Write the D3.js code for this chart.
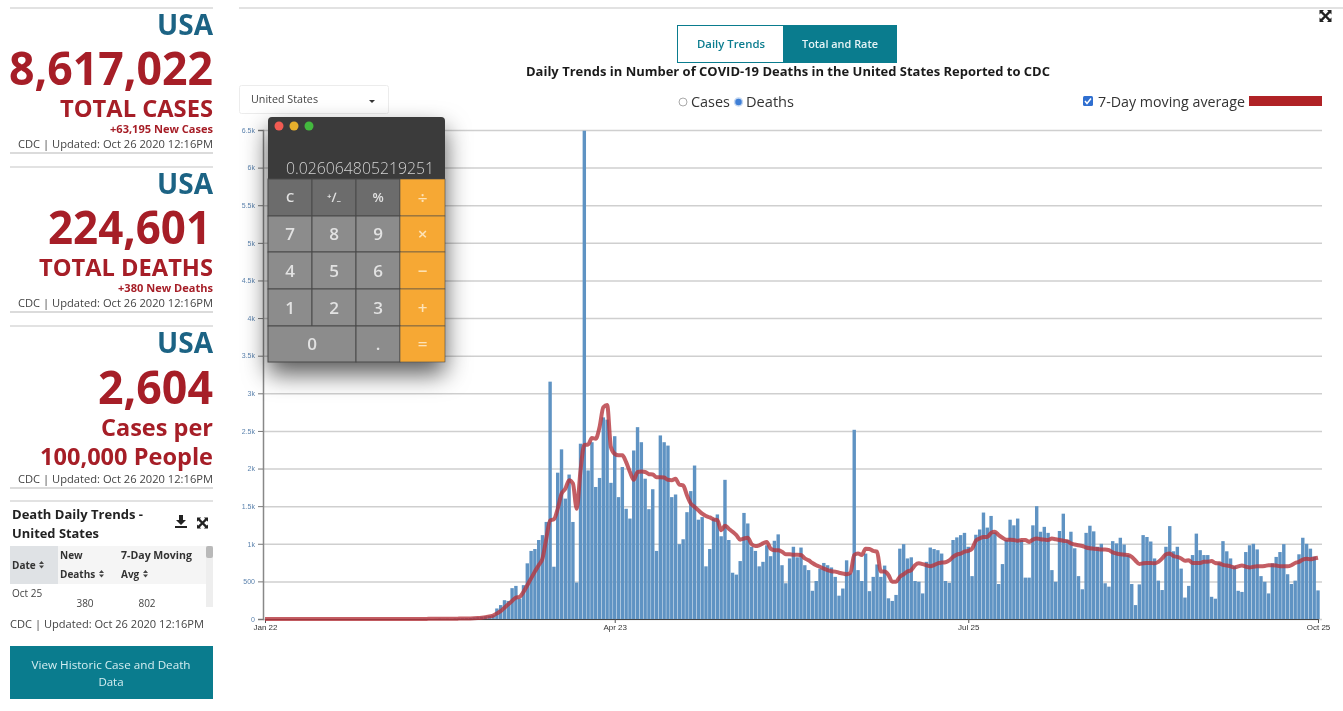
<!DOCTYPE html>
<html>
<head>
<meta charset="utf-8">
<title>COVID-19 Daily Trends</title>
<script src="https://cdn.jsdelivr.net/npm/d3@7"></script>
<style>
  html, body { margin: 0; padding: 0; background: #fff; overflow: hidden; }
  svg { display: block; font-family: "Open Sans", "Noto Sans", sans-serif; filter: blur(0.45px); }
</style>
</head>
<body>
<svg id="page" width="1343" height="711"></svg>
<script>
/**
 * Data
 */
const dailyDeaths = [
  0,0,0,0,0,0,0,0,0,0, 0,0,0,0,0,0,0,0,0,0, 0,0,0,0,0,0,0,0,0,0, 0,0,0,0,0,0,0,0,1,
  1,1,2,3,4,1,3,6,4,5,4,8,10,10,12,14,20,24,30,36,42,
  50,140,185,250,240,410,440,270,450,740,
  905,930,1050,1115,1290,3155,695,1945,2255,1600,
  1920,1290,485,2330,6490,1975,2350,1755,1875,2680,
  2650,1810,2430,1620,2020,1465,1335,2240,2550,2350,
  1865,1460,1725,905,2440,2350,2305,1620,1655,995,
  1060,1420,1700,2040,1320,1355,700,930,1335,1390,
  1100,1850,1050,615,590,770,1410,1270,960,905,
  700,760,980,835,1040,1125,715,475,805,960,
  820,950,715,650,375,505,670,745,715,685,
  560,310,405,780,605,2515,650,505,870,370,
  560,725,560,710,275,240,320,935,995,805,
  820,505,495,340,760,950,930,915,870,505,
  480,1050,1085,1115,1145,960,570,1120,1190,1415,
  1215,1370,1150,465,730,1050,1320,1245,1335,1050,
  550,550,1245,1500,1160,1225,1145,650,495,1170,
  1400,1050,1160,940,570,395,1145,1240,1165,960,
  1000,475,430,1035,1005,1080,990,850,465,185,
  460,1115,1090,1030,805,510,385,960,1235,900,
  960,670,285,440,850,1135,915,850,850,295,
  270,750,1035,900,805,700,375,360,890,980,
  1000,925,570,495,340,740,825,890,995,595,
  465,510,860,1080,1000,935,830,380
];
const movingAvg = [
  0,0,0,0,0,0,0,0,0,0, 0,0,0,0,0,0,0,0,0,0, 0,0,0,0,0,0,0,0,0,0, 0,0,0,0,0,0,0,0,0,
  1,1,1,1,2,2,2,3,3,3,4,4,5,6,7,8,10,13,18,25,35,
  45,75,105,150,195,240,285,295,360,450,
  540,630,715,805,1070,1310,1325,1465,1665,1730,
  1845,1800,1465,1975,2315,2320,2405,2395,2550,2815,
  2845,2285,2195,2175,2175,2085,1955,1850,1955,1960,
  1955,1925,1920,1885,1885,1880,1850,1845,1865,1785,
  1775,1645,1535,1490,1445,1400,1370,1350,1325,1315,
  1180,1240,1200,1160,1115,1055,1070,1080,995,970,
  980,1005,1025,935,915,915,895,860,860,855,
  855,850,805,780,745,715,695,670,650,635,
  630,615,605,595,615,850,870,850,935,930,
  905,895,630,630,585,495,495,560,595,630,
  650,715,740,730,715,700,715,740,750,755,
  780,825,855,870,895,905,935,1040,1070,1090,
  1090,1145,1160,1115,1080,1055,1055,1050,1040,1050,
  1050,1025,1055,1070,1060,1055,1050,1070,1060,1050,
  1040,1035,1005,990,980,970,950,940,935,930,
  925,925,915,885,870,860,855,850,825,775,
  730,740,745,745,740,760,805,860,870,835,
  825,805,775,780,745,745,745,760,760,770,
  745,740,720,710,700,685,700,710,695,685,
  695,700,700,705,715,715,710,700,700,700,
  715,745,760,790,800,795,805,815
];
const yTicks = [0, 500, 1000, 1500, 2000, 2500, 3000, 3500, 4000, 4500, 5000, 5500, 6000, 6500];
const xTickDays = [0, 92, 185, 277];
const calcKeys = [
  ["C", "⁺∕₋", "%", "÷"],
  ["7", "8", "9", "×"],
  ["4", "5", "6", "−"],
  ["1", "2", "3", "+"],
  ["0", "", ".", "="]
];
const statBlocks = [
  { top: 0, big: "8,617,022", bigEnd: 213, bigW: 204, name: "TOTAL CASES", nameW: 153, sub: "+63,195 New Cases", subW: 103 },
  { top: 159, big: "224,601", bigEnd: 211, bigW: 163, name: "TOTAL DEATHS", nameW: 174, sub: "+380 New Deaths", subW: 95 }
];

const teal = "#0a7c8e", navy = "#1c6384", red = "#a61e27", grey = "#444";
const svg = d3.select("#page");

/**
 * Helpers
 */
function label(parent, x, y, str, size, fill, opts = {}) {
  const t = parent.append("text")
    .attr("x", x).attr("y", y).text(str)
    .attr("font-size", size).attr("fill", fill)
    .attr("font-weight", opts.weight || 400)
    .attr("text-anchor", opts.anchor || "start");
  if (opts.width) t.attr("textLength", opts.width).attr("lengthAdjust", "spacingAndGlyphs");
  return t;
}
function hr(y, x1, x2, color = "#d9d9d9") {
  svg.append("line").attr("x1", x1).attr("x2", x2).attr("y1", y).attr("y2", y)
    .attr("stroke", color).attr("stroke-width", 1.5);
}
function expandIcon(cx, cy, r) {
  const g = svg.append("g").attr("transform", `translate(${cx},${cy})`)
    .attr("stroke", "#222").attr("fill", "#222");
  [[1, 1], [1, -1], [-1, 1], [-1, -1]].forEach(([a, b]) => {
    g.append("line").attr("x1", 0).attr("y1", 0)
      .attr("x2", a * r * 0.8).attr("y2", b * r * 0.8).attr("stroke-width", 2.4);
    g.append("path").attr("stroke", "none")
      .attr("d", `M${a * r},${b * r}L${a * r * 0.25},${b * r}L${a * r},${b * r * 0.25}Z`);
  });
}
function sortIcon(x, y) {
  svg.append("path").attr("fill", "#444")
    .attr("d", `M${x},${y - 1}l2.5,-3l2.5,3ZM${x},${y + 0.5}l2.5,3l2.5,-3Z`);
}

/**
 * Left column
 */
hr(8, 10, 213);
statBlocks.forEach(b => {
  label(svg, 213, b.top + 35, "USA", 28, navy, { weight: 700, anchor: "end" });
  label(svg, b.bigEnd, b.top + 85, b.big, 47, red, { weight: 700, anchor: "end", width: b.bigW });
  label(svg, 213, b.top + 117, b.name, 23, red, { weight: 700, anchor: "end", width: b.nameW });
  label(svg, 213, b.top + 133, b.sub, 10.5, red, { weight: 700, anchor: "end", width: b.subW });
  label(svg, 213, b.top + 148, "CDC | Updated: Oct 26 2020 12:16PM", 11, grey, { anchor: "end", width: 195 });
  hr(b.top + 153, 10, 213, "#cfcfcf");
  hr(b.top + 167, 10, 213);
});
label(svg, 213, 353, "USA", 28, navy, { weight: 700, anchor: "end" });
label(svg, 213, 404, "2,604", 47, red, { weight: 700, anchor: "end", width: 115 });
label(svg, 213, 436, "Cases per", 23, red, { weight: 700, anchor: "end", width: 112 });
label(svg, 213, 465, "100,000 People", 23, red, { weight: 700, anchor: "end", width: 173 });
label(svg, 213, 483, "CDC | Updated: Oct 26 2020 12:16PM", 11, grey, { anchor: "end", width: 195 });
hr(488, 10, 213, "#cfcfcf");
hr(501, 10, 213);

label(svg, 12, 519, "Death Daily Trends -", 13, "#222", { weight: 700, width: 131 });
label(svg, 12, 538, "United States", 13, "#222", { weight: 700, width: 87 });
svg.append("path").attr("fill", "#222")
  .attr("d", "M179,515h4v5h3l-5,5l-5,-5h3ZM175,526h12v2h-12Z");
expandIcon(202.5, 523, 5.5);

svg.append("rect").attr("x", 10).attr("y", 546).attr("width", 197).attr("height", 38).attr("fill", "#f5f5f5");
svg.append("rect").attr("x", 10).attr("y", 546).attr("width", 48).attr("height", 38).attr("fill", "#dfe2e5");
label(svg, 12, 569, "Date", 10, "#333", { weight: 700 });
sortIcon(39, 565);
label(svg, 60, 559, "New", 10, "#333", { weight: 700 });
label(svg, 60, 578, "Deaths", 10, "#333", { weight: 700 });
sortIcon(99, 574);
label(svg, 121, 559, "7-Day Moving", 10, "#333", { weight: 700, width: 71 });
label(svg, 121, 578, "Avg", 10, "#333", { weight: 700 });
sortIcon(143, 574);
label(svg, 12, 597, "Oct 25", 10, "#444");
label(svg, 85, 607, "380", 10, "#444", { anchor: "middle" });
label(svg, 147, 607, "802", 10, "#444", { anchor: "middle" });
svg.append("rect").attr("x", 206).attr("y", 546).attr("width", 7).attr("height", 61).attr("fill", "#eee");
svg.append("rect").attr("x", 206).attr("y", 546).attr("width", 7).attr("height", 12).attr("rx", 2).attr("fill", "#b9b9b9");
label(svg, 10, 628, "CDC | Updated: Oct 26 2020 12:16PM", 11, grey, { width: 194 });
svg.append("rect").attr("x", 10).attr("y", 646).attr("width", 203).attr("height", 53).attr("fill", teal);
label(svg, 111, 669, "View Historic Case and Death", 11.5, "#d5eef1", { anchor: "middle", width: 159 });
label(svg, 111, 686, "Data", 11.5, "#d5eef1", { anchor: "middle" });

/**
 * Header of the chart panel
 */
hr(8, 239, 1343);
expandIcon(1325.5, 16, 6);
svg.append("rect").attr("x", 677.5).attr("y", 25.5).attr("width", 106).attr("height", 37)
  .attr("fill", "#fff").attr("stroke", teal);
svg.append("rect").attr("x", 783).attr("y", 25).attr("width", 114).attr("height", 38).attr("fill", teal);
label(svg, 731, 48, "Daily Trends", 11.5, teal, { weight: 600, anchor: "middle", width: 68 });
label(svg, 840, 48, "Total and Rate", 11.5, "#e6f4f6", { weight: 600, anchor: "middle", width: 76 });
label(svg, 788, 76, "Daily Trends in Number of COVID-19 Deaths in the United States Reported to CDC", 12.5, "#1a1a1a",
  { weight: 700, anchor: "middle", width: 524 });

svg.append("rect").attr("x", 239.5).attr("y", 85.5).attr("width", 149).attr("height", 28).attr("rx", 2)
  .attr("fill", "#fff").attr("stroke", "#ececec");
label(svg, 251, 103, "United States", 10.5, grey, { width: 67 });
svg.append("path").attr("d", "M369,100h6l-3,3Z").attr("fill", "#333");

svg.append("circle").attr("cx", 683).attr("cy", 102).attr("r", 4).attr("fill", "#fff").attr("stroke", "#aaa");
label(svg, 691, 107, "Cases", 14, "#333", { width: 39 });
svg.append("circle").attr("cx", 738.5).attr("cy", 102).attr("r", 4).attr("fill", "#3f7fd6").attr("stroke", "#c5d8f2").attr("stroke-width", 1.5);
label(svg, 746, 107, "Deaths", 14, "#333", { width: 48 });
svg.append("rect").attr("x", 1083).attr("y", 96).attr("width", 10).attr("height", 10).attr("rx", 1.5).attr("fill", "#2f6fd0");
svg.append("path").attr("d", "M1085,101l2,2.5l4,-5").attr("fill", "none").attr("stroke", "#fff").attr("stroke-width", 1.5);
label(svg, 1098, 107, "7-Day moving average", 14, "#333", { width: 147 });
svg.append("rect").attr("x", 1249).attr("y", 96).attr("width", 73).attr("height", 10).attr("fill", "#b02226");

/**
 * Chart
 */
const startDate = new Date(2020, 0, 22);
const dayOf = i => d3.timeDay.offset(startDate, i);
const xScale = d3.scaleTime().domain([dayOf(0), dayOf(277)]).range([265, 1318]);
const yScale = d3.scaleLinear().domain([0, 6500]).range([619, 130]);

const grid = svg.append("g").attr("transform", "translate(263,0)")
  .call(d3.axisLeft(yScale).tickValues(yTicks).tickSize(-1059).tickFormat(""));
grid.select(".domain").remove();
grid.selectAll("line").attr("stroke", "#cfcfcf").attr("stroke-width", 1.5);

svg.append("g").selectAll("rect")
  .data(dailyDeaths)
  .enter()
  .append("rect")
  .attr("x", (d, i) => xScale(dayOf(i)) - 1.7)
  .attr("width", 3.4)
  .attr("y", d => yScale(d))
  .attr("height", d => yScale(0) - yScale(d))
  .attr("fill", "#5f93c3");

const yAxis = svg.append("g").attr("transform", "translate(263,0)")
  .call(d3.axisLeft(yScale).tickValues(yTicks).tickSize(5)
    .tickFormat(d => d >= 1000 ? (d / 1000) + "k" : d));
yAxis.select(".domain").attr("stroke", "#888").attr("stroke-width", 1.5);
yAxis.selectAll(".tick line").attr("stroke", "#777");
yAxis.selectAll("text").attr("font-size", 7).attr("fill", "#5b82ad").attr("font-family", "inherit");

const xAxis = svg.append("g").attr("transform", "translate(0,619)")
  .call(d3.axisBottom(xScale).tickValues(xTickDays.map(dayOf)).tickSize(4)
    .tickFormat(d3.timeFormat("%b %d")));
xAxis.select(".domain").attr("stroke", "#444");
xAxis.selectAll(".tick line").attr("stroke", "#555");
xAxis.selectAll("text").attr("font-size", 8).attr("fill", "#333").attr("font-family", "inherit").attr("dy", "0.5em");

const avgLine = d3.line()
  .x((d, i) => xScale(dayOf(i)))
  .y(d => yScale(d))
  .curve(d3.curveMonotoneX);
svg.append("path").attr("d", avgLine(movingAvg))
  .attr("fill", "none").attr("stroke", "#b5363d").attr("stroke-opacity", 0.8)
  .attr("stroke-width", 4).attr("stroke-linejoin", "round");

/**
 * Calculator window on top of the chart
 */
const defs = svg.append("defs");
defs.append("filter").attr("id", "calcShadow")
  .attr("x", "-30%").attr("y", "-20%").attr("width", "160%").attr("height", "150%")
  .append("feDropShadow").attr("dx", 0).attr("dy", 12).attr("stdDeviation", 12)
  .attr("flood-color", "#000").attr("flood-opacity", 0.65);

const calcX = d3.scaleOrdinal().domain([0, 1, 2, 3, 4]).range([268, 312, 356, 400, 445]);
const calcY = d3.scaleOrdinal().domain([0, 1, 2, 3, 4, 5]).range([179, 216, 252, 289, 326, 362]);
const calc = svg.append("g");
calc.append("rect").attr("x", 268).attr("y", 117).attr("width", 177).attr("height", 245).attr("rx", 4)
  .attr("fill", "#3a3a3a").attr("filter", "url(#calcShadow)");
[["#f25b52", 279], ["#e7b02c", 294], ["#43b83e", 309]].forEach(([c, x]) => {
  calc.append("circle").attr("cx", x).attr("cy", 126).attr("r", 4.5).attr("fill", c);
});
label(calc, 434, 174, "0.026064805219251", 16.5, "#d2d2d2", { anchor: "end", width: 148 }).attr("font-weight", 300);

calcKeys.forEach((row, r) => {
  row.forEach((key, c) => {
    if (r === 4 && c === 1) return;
    const wide = r === 4 && c === 0;
    const x0 = calcX(c), x1 = calcX(wide ? c + 2 : c + 1);
    const y0 = calcY(r), y1 = calcY(r + 1);
    const fill = c === 3 ? "#f6a834" : r === 0 ? "#6c6c6c" : "#8c8c8c";
    calc.append("rect").attr("x", x0).attr("y", y0).attr("width", x1 - x0).attr("height", y1 - y0)
      .attr("fill", fill).attr("stroke", "#4a4a4a").attr("stroke-width", c === 3 ? 0.6 : 1);
    const size = r === 0 && c < 3 ? 13 : 17;
    label(calc, (x0 + x1) / 2, (y0 + y1) / 2 + size * 0.36, key, size, c === 3 ? "#fde3b8" : "#e2e2e2",
      { anchor: "middle", weight: 600 });
  });
});
</script>
</body>
</html>
